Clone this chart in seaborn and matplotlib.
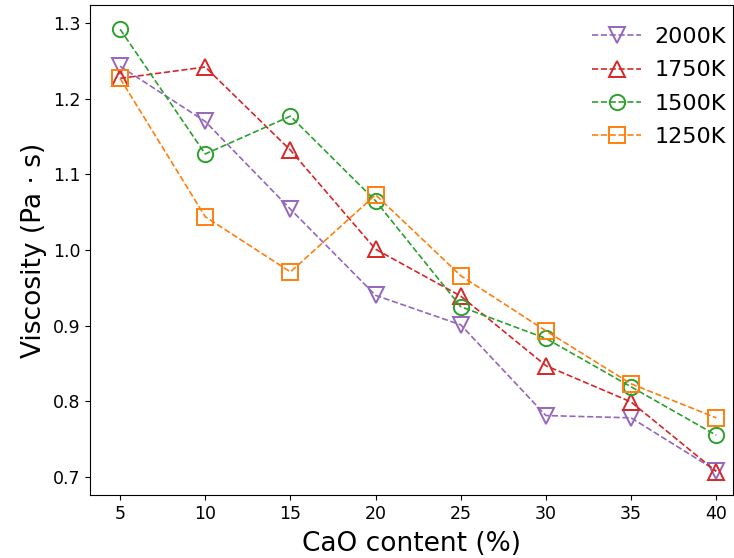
import matplotlib
matplotlib.use("Agg")
import matplotlib.pyplot as plt
import seaborn as sns
import pandas as pd

cao = [5, 10, 15, 20, 25, 30, 35, 40]
v2000 = [1.243, 1.170, 1.054, 0.940, 0.901, 0.781, 0.778, 0.708]
v1750 = [1.227, 1.242, 1.132, 1.001, 0.939, 0.847, 0.799, 0.707]
v1500 = [1.292, 1.127, 1.177, 1.065, 0.925, 0.883, 0.819, 0.755]
v1250 = [1.227, 1.044, 0.971, 1.073, 0.966, 0.893, 0.823, 0.778]
labels = ["2000K", "1750K", "1500K", "1250K"]

sns.set_style("ticks")
plt.rcParams['font.family'] = ['DejaVu Sans']
plt.rcParams['text.color'] = 'black'
plt.rcParams['axes.labelcolor'] = 'black'
plt.rcParams['xtick.color'] = 'black'
plt.rcParams['ytick.color'] = 'black'

df = pd.DataFrame({
    "CaO": cao * 4,
    "Viscosity": v2000 + v1750 + v1500 + v1250,
    "T": sum([[l] * len(cao) for l in labels], []),
})

colors = {"2000K": "#9467bd", "1750K": "#d62728", "1500K": "#2ca02c", "1250K": "#ff7f0e"}
markers = {"2000K": "v", "1750K": "^", "1500K": "o", "1250K": "s"}

fig, ax = plt.subplots(figsize=(7.34, 5.58), dpi=100)
for l in labels:
    sub = df[df["T"] == l]
    sns.lineplot(data=sub, x="CaO", y="Viscosity", ax=ax, color=colors[l],
                 linestyle="--", linewidth=1.2, marker=markers[l], markersize=11,
                 markerfacecolor="none", markeredgecolor=colors[l], markeredgewidth=1.4,
                 label=l)

ax.set_xlim(3.25, 41.0)
ax.set_ylim(0.676, 1.324)
ax.set_xticks(cao)
ax.set_yticks([0.7, 0.8, 0.9, 1.0, 1.1, 1.2, 1.3])
ax.tick_params(labelsize=12.5)
ax.set_xlabel("CaO content (%)", fontsize=19, labelpad=6)
ax.set_ylabel("Viscosity (Pa · s)", fontsize=19)
for s in ax.spines.values():
    s.set_visible(True)
    s.set_color("black")
ax.legend(frameon=False, fontsize=16, loc="upper right", handlelength=2.2,
          borderaxespad=0.15, labelspacing=0.6, handletextpad=0.6,
          bbox_to_anchor=(1.008, 0.98))
fig.subplots_adjust(left=0.123, right=0.999, top=0.991, bottom=0.113)
fig.savefig("out.png", dpi=100)
